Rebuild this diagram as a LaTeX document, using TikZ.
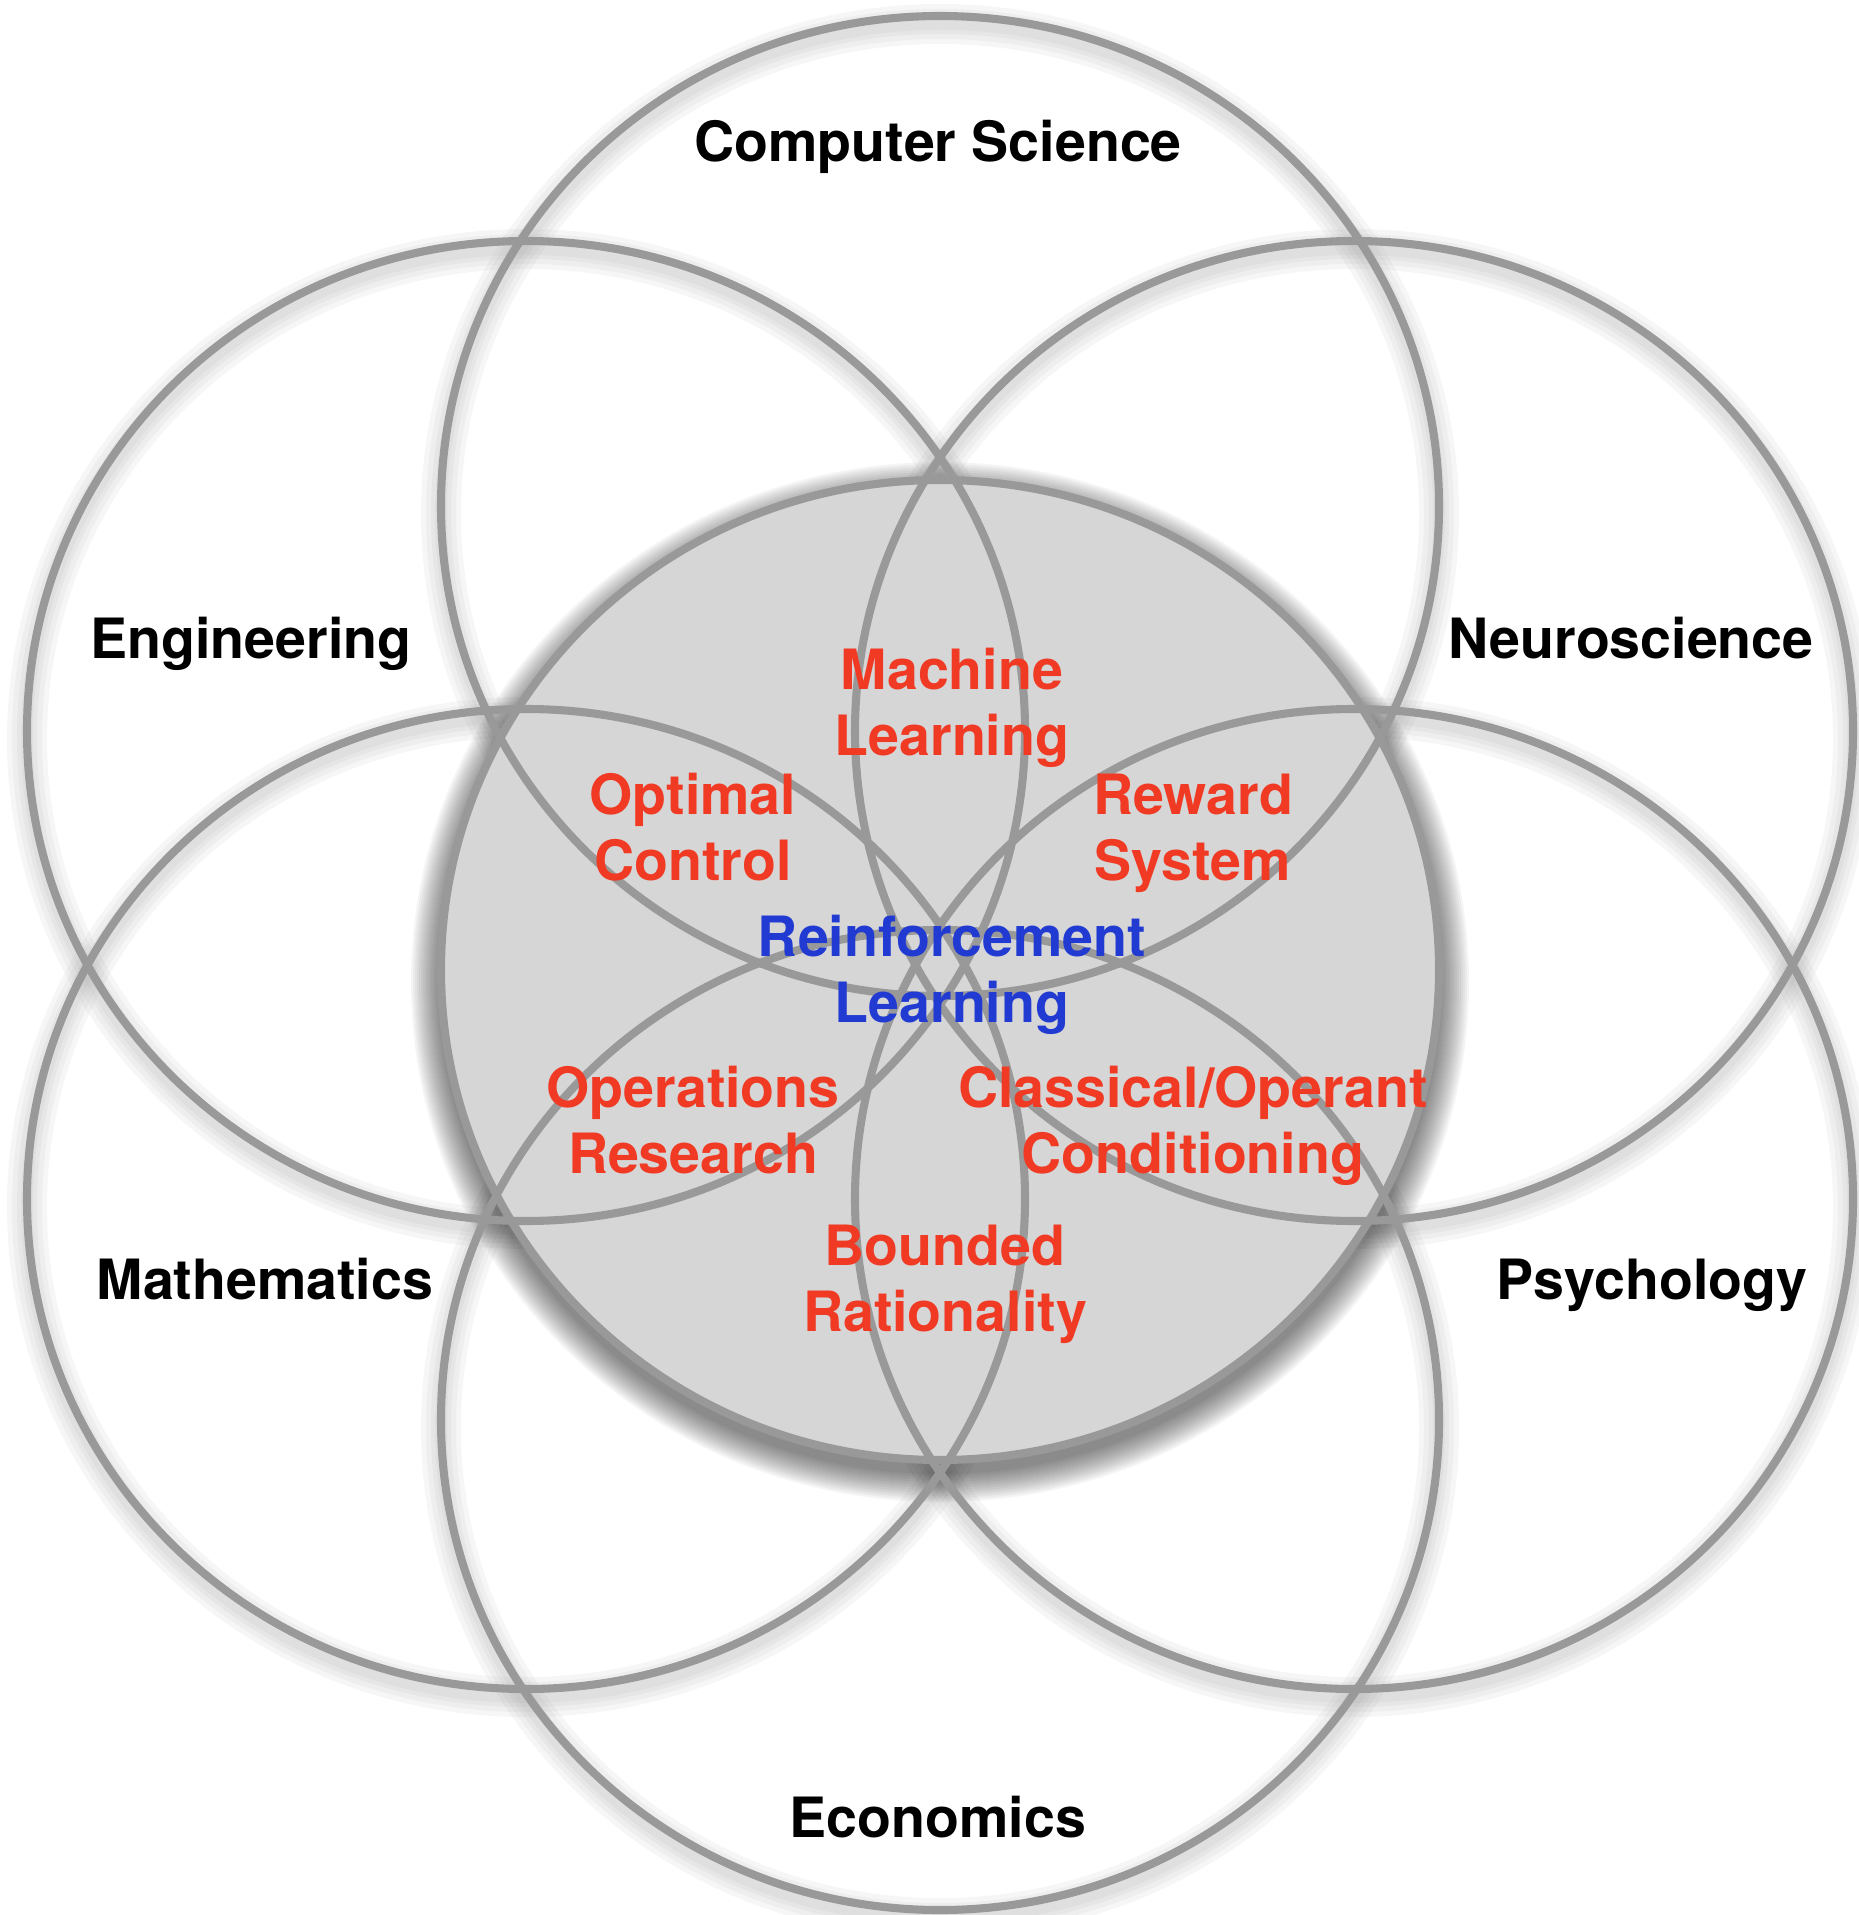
\documentclass[tikz,border=0pt]{standalone}
\usepackage{fontspec}
\setmainfont{TeX Gyre Heros}
\definecolor{ringgray}{RGB}{153,153,153}
\definecolor{corefill}{RGB}{214,214,214}
\definecolor{topicred}{RGB}{240,58,36}
\definecolor{rlblue}{RGB}{33,58,210}
\begin{document}
\begin{tikzpicture}[
    ring/.style={draw=ringgray, line width=2.3pt},
    halo/.style={draw=black!45, opacity=.08},
    field/.style={font=\fontsize{15.8}{18.5}\selectfont\bfseries, anchor=base, inner sep=0pt},
    topic/.style={field, text=topicred, align=center},
  ]
  \useasboundingbox (0,0) rectangle (18.58,-19.15);
  % soft shadow under the outer rings
  \foreach \cx/\cy in {9.40/-5.06, 5.26/-7.31, 13.54/-7.31, 5.26/-11.99, 13.54/-11.99, 9.40/-14.20}{
    \foreach \w in {0.40,0.30,0.20,0.12}
      \draw[halo, line width=\w cm] (\cx,\cy-0.08) ellipse [x radius=4.99cm, y radius=4.90cm];
  }
  % core with its drop shadow
  \foreach \d in {0.02,0.04,...,0.30}
    \fill[black, opacity=.04] (9.40,-9.82) ellipse [x radius=4.99cm+\d cm, y radius=4.90cm+\d cm];
  \fill[corefill] (9.40,-9.70) ellipse [x radius=4.99cm, y radius=4.90cm];
  \draw[ring] (9.40,-9.70) ellipse [x radius=4.99cm, y radius=4.90cm];
  \foreach \cx/\cy in {9.40/-5.06, 5.26/-7.31, 13.54/-7.31, 5.26/-11.99, 13.54/-11.99, 9.40/-14.20}
    \draw[ring] (\cx,\cy) ellipse [x radius=4.99cm, y radius=4.90cm];
  % fields
  \node[field] (cs) at (9.38,-1.62) {Computer Science};
  \node[field] (eng) at (2.51,-6.59) {Engineering};
  \node[field] (neuro) at (16.31,-6.59) {Neuroscience};
  \node[field] (math) at (2.65,-12.99) {Mathematics};
  \node[field] (psych) at (16.52,-12.99) {Psychology};
  \node[field] (econ) at (9.38,-18.37) {Economics};
  % overlaps (base is the last line)
  \node[topic] (ml) at (9.52,-7.55) {Machine\\Learning};
  \node[topic] (oc) at (6.93,-8.80) {Optimal\\Control};
  \node[topic] (rs) at (11.93,-8.80) {Reward\\System};
  \node[topic, text=rlblue] (rl) at (9.52,-10.22) {Reinforcement\\Learning};
  \node[topic] (or) at (6.93,-11.73) {Operations\\Research};
  \node[topic] (co) at (11.93,-11.73) {Classical/Operant\\Conditioning};
  \node[topic] (br) at (9.45,-13.31) {Bounded\\Rationality};
\end{tikzpicture}
\end{document}
